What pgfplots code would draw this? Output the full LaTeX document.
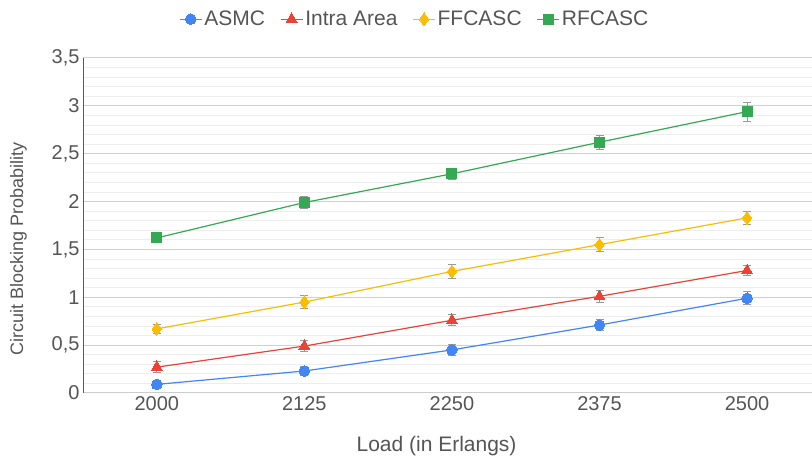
\documentclass[border=0pt]{standalone}
\usepackage{fontspec}
\setmainfont{Liberation Sans}
\usepackage{pgfplots}
\pgfplotsset{compat=1.18}
\definecolor{cblue}{HTML}{4285F4}
\definecolor{cred}{HTML}{EA4335}
\definecolor{cyel}{HTML}{FBBC04}
\definecolor{cgreen}{HTML}{34A853}
\definecolor{txt}{HTML}{555555}
\definecolor{errc}{HTML}{999999}
\begin{document}
\begin{tikzpicture}
\begin{axis}[
  scale only axis, width=729pt, height=335pt,
  xmin=-0.5, xmax=4.44, ymin=0, ymax=3.5,
  xtick={0,1,2,3,4}, xticklabels={2000,2125,2250,2375,2500},
  ytick={0,0.5,1,1.5,2,2.5,3,3.5},
  minor y tick num=4,
  ymajorgrids, yminorgrids,
  major grid style={draw=black!18, line width=1pt},
  minor grid style={draw=black!7, line width=0.8pt},
  major tick length=0pt, minor tick length=0pt,
  axis x line*=bottom, axis y line*=left,
  x axis line style={draw=black!20, line width=1pt, -},
  y axis line style={draw=black!65, line width=0.8pt, -},
  /pgf/number format/.cd, use comma, assume math mode=true, /pgfplots/.cd,
  tick label style={font=\fontsize{20}{24}\selectfont, text=txt},
  xlabel={Load (in Erlangs)},
  ylabel={Circuit Blocking Probability},
  xlabel style={at={(axis description cs:0.485,-0.158)}, anchor=center, font=\fontsize{21}{25}\selectfont, text=txt},
  ylabel style={at={(axis description cs:-0.0885,0.43)}, anchor=center, font=\fontsize{18}{22}\selectfont, text=txt},
  legend columns=-1,
  legend style={at={(axis description cs:0.455,1.116)}, anchor=center, draw=none, fill=none,
    font=\fontsize{21}{25}\selectfont, text=txt,
    /tikz/every even column/.append style={column sep=13pt}},
  legend image code/.code={\draw[mark repeat=2,mark phase=2] plot coordinates {(0pt,0pt)(11pt,0pt)(22pt,0pt)};},
  every axis plot/.append style={line width=1.2pt},
  error bars/error bar style={draw=errc, line width=1pt, solid},
  error bars/error mark options={draw=errc, rotate=90, mark size=4pt, line width=1pt},
]
\addplot[color=cblue, mark=*, mark size=5.3pt, mark options={solid, fill=cblue, draw=cblue, line width=0pt},
  error bars/.cd, y dir=both, y explicit]
  table[x=x, y=y, y error=e] {
x y e
0 0.09 0.04
1 0.23 0.05
2 0.45 0.06
3 0.71 0.06
4 0.99 0.07
};
\addlegendentry{ASMC}
\addplot[color=cred, mark=triangle*, mark size=6.3pt, mark options={solid, fill=cred, draw=cred, line width=0pt},
  error bars/.cd, y dir=both, y explicit]
  table[x=x, y=y, y error=e] {
x y e
0 0.27 0.06
1 0.49 0.06
2 0.76 0.06
3 1.01 0.065
4 1.28 0.05
};
\addlegendentry{Intra Area}
\addplot[color=cyel, mark=diamond*, mark size=6.3pt, mark options={solid, fill=cyel, draw=cyel, line width=0pt},
  error bars/.cd, y dir=both, y explicit]
  table[x=x, y=y, y error=e] {
x y e
0 0.67 0.05
1 0.95 0.07
2 1.27 0.07
3 1.55 0.07
4 1.83 0.07
};
\addlegendentry{FFCASC}
\addplot[color=cgreen, mark=square*, mark size=5pt, mark options={solid, fill=cgreen, draw=cgreen, line width=0pt},
  error bars/.cd, y dir=both, y explicit]
  table[x=x, y=y, y error=e] {
x y e
0 1.62 0.05
1 1.99 0.06
2 2.29 0.06
3 2.62 0.075
4 2.94 0.1
};
\addlegendentry{RFCASC}
\end{axis}
\pgfresetboundingbox
\path (current axis.south west) ++(-83pt,-64pt) coordinate (bbA);
\path (current axis.north east) ++(0pt,58pt) coordinate (bbB);
\useasboundingbox (bbA) rectangle (bbB);
\end{tikzpicture}
\end{document}
